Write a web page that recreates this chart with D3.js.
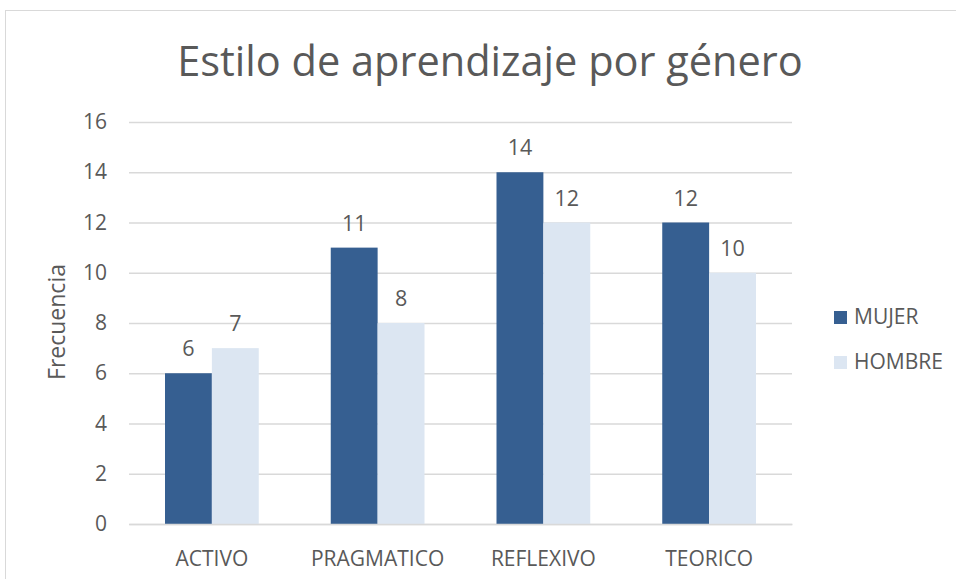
<!DOCTYPE html>
<html>
<head>
<meta charset="utf-8">
<script src="https://cdn.jsdelivr.net/npm/d3@7"></script>
<style>
  body { margin: 0; background: #fff; }
  svg { display: block; font-family: "Open Sans", "Noto Sans", sans-serif; }
</style>
</head>
<body>
<div id="chart"></div>
<script>
// chart data
const categories = ["ACTIVO", "PRAGMATICO", "REFLEXIVO", "TEORICO"];
const seriesNames = ["MUJER", "HOMBRE"];
const mujer = [6, 11, 14, 12];
const hombre = [7, 8, 12, 10];
const yTicks = [0, 2, 4, 6, 8, 10, 12, 14, 16];

const colors = { MUJER: "#365F91", HOMBRE: "#DCE6F2" };
const textColor = "#595959";

const width = 956, height = 579;
const plot = { left: 129, right: 792, top: 122, bottom: 524 };

const svg = d3.select("#chart").append("svg")
  .attr("width", width).attr("height", height);

// chart frame
svg.append("rect")
  .attr("x", 5.5).attr("y", 10.5)
  .attr("width", 960).attr("height", 600)
  .attr("fill", "#fff").attr("stroke", "#d9d9d9");

svg.append("text")
  .attr("x", 490).attr("y", 76)
  .attr("text-anchor", "middle")
  .attr("font-size", 41.5)
  .attr("fill", textColor)
  .text("Estilo de aprendizaje por género");

const x0 = d3.scaleBand().domain(categories).range([plot.left, plot.right]);
const groupPad = 36;
const x1 = d3.scaleBand().domain(seriesNames)
  .range([groupPad, x0.bandwidth() - groupPad]);
const y = d3.scaleLinear().domain([0, 16]).range([plot.bottom, plot.top]);

// gridlines
const grid = svg.append("g")
  .attr("transform", `translate(${plot.left},0)`)
  .call(d3.axisLeft(y).tickValues(yTicks).tickSize(-(plot.right - plot.left)).tickFormat(""));
grid.select(".domain").remove();
grid.selectAll("line").attr("stroke", "#d9d9d9").attr("stroke-width", 1.3);

// y tick labels
const yAxis = svg.append("g")
  .attr("transform", `translate(${plot.left - 22},0)`)
  .call(d3.axisLeft(y).tickValues(yTicks).tickSize(0).tickPadding(0));
yAxis.select(".domain").remove();
yAxis.selectAll("text")
  .attr("font-size", 21).attr("fill", textColor)
  .attr("font-family", "Open Sans, sans-serif");

// y axis title
svg.append("text")
  .attr("transform", `translate(65,322) rotate(-90)`)
  .attr("text-anchor", "middle")
  .attr("font-size", 23)
  .attr("fill", textColor)
  .text("Frecuencia");

const rows = categories.map((c, i) => ({ cat: c, values: [
  { key: "MUJER", value: mujer[i] },
  { key: "HOMBRE", value: hombre[i] }
] }));

const groups = svg.append("g").selectAll("g")
  .data(rows).join("g")
  .attr("transform", (d) => `translate(${x0(d.cat)},0)`);

groups.selectAll("rect")
  .data((d) => d.values).join("rect")
  .attr("x", (d) => x1(d.key))
  .attr("width", x1.bandwidth())
  .attr("y", (d) => y(d.value))
  .attr("height", (d) => y(0) - y(d.value))
  .attr("fill", (d) => colors[d.key]);

groups.selectAll("text")
  .data((d) => d.values).join("text")
  .attr("x", (d) => x1(d.key) + x1.bandwidth() / 2)
  .attr("y", (d) => y(d.value) - 17)
  .attr("text-anchor", "middle")
  .attr("font-size", 21.5)
  .attr("fill", textColor)
  .text((d) => d.value);

// x axis
const xAxis = svg.append("g")
  .attr("transform", `translate(0,${plot.bottom})`)
  .call(d3.axisBottom(x0).tickSize(0).tickPadding(27));
xAxis.select(".domain").attr("stroke", "#d9d9d9").attr("stroke-width", 1.3);
xAxis.selectAll("text")
  .attr("font-size", 21).attr("fill", textColor)
  .attr("font-family", "Open Sans, sans-serif");

// legend
const legend = svg.append("g").selectAll("g")
  .data(seriesNames).join("g")
  .attr("transform", (d, i) => `translate(834,${311 + i * 45})`);
legend.append("rect")
  .attr("width", 13).attr("height", 13)
  .attr("fill", (d) => colors[d]);
legend.append("text")
  .attr("x", 20).attr("y", 13)
  .attr("font-size", 21)
  .attr("fill", textColor)
  .text((d) => d);
</script>
</body>
</html>
